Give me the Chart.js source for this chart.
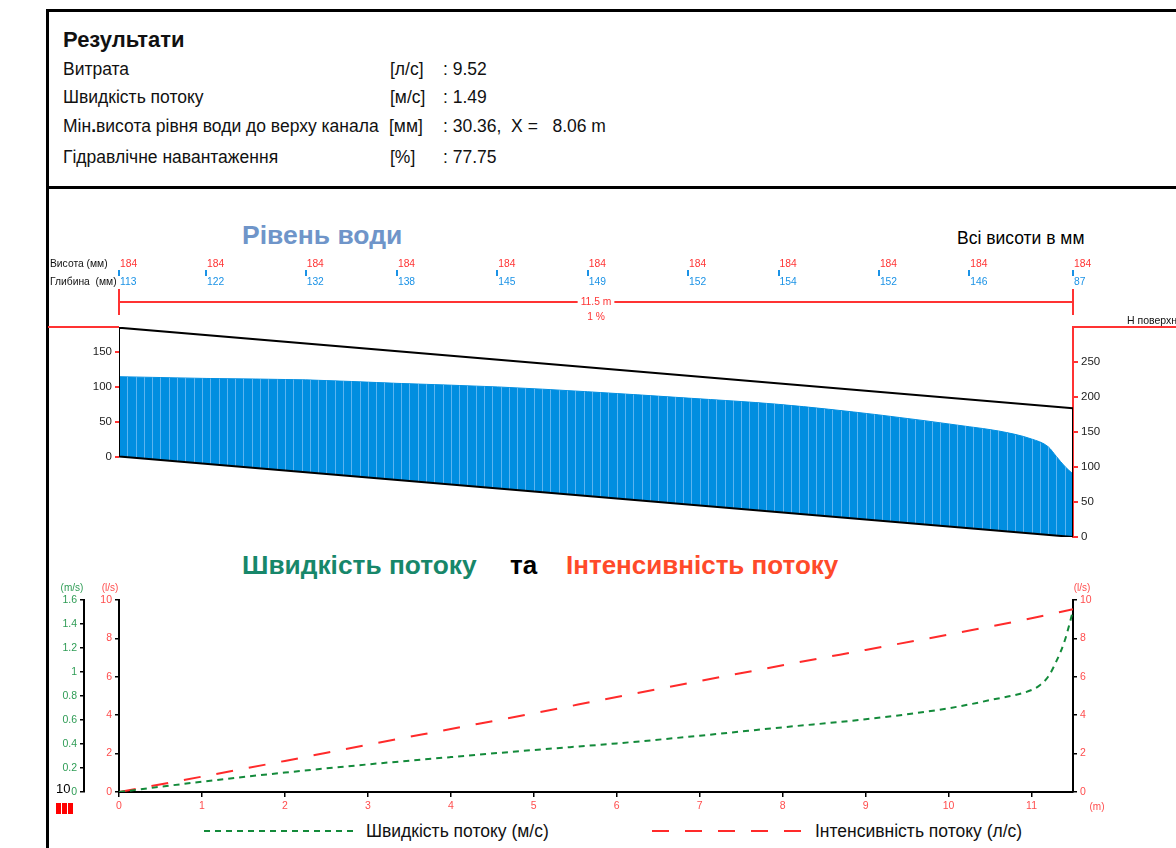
<!DOCTYPE html>
<html><head><meta charset="utf-8">
<script src="https://cdn.jsdelivr.net/npm/chart.js@4.4.1/dist/chart.umd.min.js"></script>
<style>
body{margin:0;background:#fff;font-family:"Liberation Sans",Arial,sans-serif;}
#page{position:relative;width:1176px;height:848px;overflow:hidden;background:#fff;}
.abs{position:absolute;white-space:nowrap;}
.row{font-size:17.5px;line-height:20px;color:#111;}
</style></head><body><div id="page">
<div class="abs" style="left:46px;top:9px;width:1130px;height:3px;background:#000"></div>
<div class="abs" style="left:46px;top:9px;width:3px;height:840px;background:#000"></div>
<div class="abs" style="left:46px;top:186px;width:1130px;height:3px;background:#000"></div>

<div class="abs" style="left:63px;top:27px;font-size:22px;line-height:26px;font-weight:bold;color:#111">Результати</div>
<div class="abs row" style="left:63px;top:59px">Витрата</div>
<div class="abs row" style="left:390px;top:59px">[л/с]</div>
<div class="abs row" style="left:443px;top:59px">: 9.52</div>
<div class="abs row" style="left:63px;top:87px">Швидкість потоку</div>
<div class="abs row" style="left:390px;top:87px">[м/с]</div>
<div class="abs row" style="left:443px;top:87px">: 1.49</div>
<div class="abs row" style="left:63px;top:116px">Мін<b>.</b>висота рівня води до верху канала</div>
<div class="abs row" style="left:389px;top:116px">[мм]</div>
<div class="abs row" style="left:443px;top:116px">: 30.36,&nbsp; X = &nbsp; 8.06 m</div>
<div class="abs row" style="left:63px;top:147px">Гідравлічне навантаження</div>
<div class="abs row" style="left:390px;top:147px">[%]</div>
<div class="abs row" style="left:443px;top:147px">: 77.75</div>

<div class="abs" style="left:242px;top:219px;font-size:26.5px;line-height:32px;font-weight:bold;color:#6f95c9">Рівень води</div>
<div class="abs" style="left:957px;top:227px;font-size:17.5px;line-height:22px;color:#000">Всі висоти в мм</div>

<canvas id="c1" class="abs" style="left:48px;top:200px" width="1128" height="347"></canvas>

<div class="abs" style="left:242px;top:549px;font-size:26.3px;line-height:32px;font-weight:bold;color:#17876a">Швидкість потоку</div>
<div class="abs" style="left:510px;top:549px;font-size:26px;line-height:32px;font-weight:bold;color:#000">та</div>
<div class="abs" style="left:566px;top:549px;font-size:26px;line-height:32px;font-weight:bold;color:#ff4a2a">Інтенсивність потоку</div>

<canvas id="c2" class="abs" style="left:48px;top:580px" width="1128" height="240"></canvas>

<div class="abs" style="left:56px;top:781px;font-size:13px;line-height:16px;color:#000">10</div>
<div class="abs" style="left:56px;top:803px;width:5px;height:11px;background:#f00"></div>
<div class="abs" style="left:62px;top:803px;width:5px;height:11px;background:#f00"></div>
<div class="abs" style="left:68px;top:803px;width:5px;height:11px;background:#f00"></div>

<svg class="abs" style="left:200px;top:825px" width="160" height="12"><line x1="4" y1="6" x2="156" y2="6" stroke="#138a3a" stroke-width="2" stroke-dasharray="6,5"/></svg>
<div class="abs" style="left:366px;top:821px;font-size:17.5px;line-height:20px;color:#111">Швидкість потоку (м/с)</div>
<svg class="abs" style="left:648px;top:825px" width="160" height="12"><line x1="4" y1="6" x2="156" y2="6" stroke="#ff2a2a" stroke-width="2" stroke-dasharray="17,16"/></svg>
<div class="abs" style="left:815px;top:821px;font-size:17.5px;line-height:20px;color:#111">Інтенсивність потоку (л/с)</div>
</div>
<script>
// ---------- data ----------
const pipeLength = 11.5;          // m
const slopePct = 1;               // %
const invertStart = 115;          // mm above outlet invert
const stationDist = [0, 1.05, 2.25, 3.35, 4.56, 5.65, 6.86, 7.95, 9.16, 10.25, 11.5];
const pipeHeight = [184, 184, 184, 184, 184, 184, 184, 184, 184, 184, 184];
const stationDepth = [113, 122, 132, 138, 145, 149, 152, 154, 152, 146, 87];
// water surface (depth, mm) read along the pipe
const surfaceDist = [0, 1.05, 2.25, 3.35, 4.56, 5.65, 6.86, 7.95, 9.16, 10.25, 10.6, 11.0, 11.2, 11.3, 11.4, 11.5];
const surfaceDepth = [114, 122, 132, 138, 145, 149, 152, 154, 151, 145, 142.5, 135, 126, 113, 100, 90];
const leftTicks = [0, 50, 100, 150];
const rightTicks = [0, 50, 100, 150, 200, 250];

const flowDist = [0, 1, 2, 3, 4, 5, 6, 7, 8, 9, 10, 11, 11.5];
const flowLs = [0, 0.80, 1.62, 2.46, 3.28, 4.10, 4.95, 5.78, 6.60, 7.40, 8.20, 9.05, 9.52];
const velDist = [0, 1, 2, 3, 4, 5, 6, 7, 8, 9, 10, 10.5, 11, 11.1, 11.2, 11.3, 11.4, 11.5];
const velMs = [0, 0.086, 0.162, 0.230, 0.291, 0.350, 0.405, 0.469, 0.539, 0.606, 0.698, 0.766, 0.850, 0.89, 0.96, 1.09, 1.26, 1.51];
const xTicks = [0, 1, 2, 3, 4, 5, 6, 7, 8, 9, 10, 11];

Chart.defaults.font.family = '"Liberation Sans", Arial, sans-serif';

const invAt = d => invertStart - slopePct * 10 * d;
const invertLine = [{x: 0, y: invAt(0)}, {x: pipeLength, y: invAt(pipeLength)}];
const pipeOutline = [
  {x: 0, y: invAt(0)}, {x: 0, y: invAt(0) + pipeHeight[0]},
  {x: pipeLength, y: invAt(pipeLength) + pipeHeight[pipeHeight.length - 1]},
  {x: pipeLength, y: invAt(pipeLength)}, {x: 0, y: invAt(0)}
];
const surfacePts = surfaceDist.map((d, i) => ({x: d, y: invAt(d) + surfaceDepth[i]}));

const WATER = 'rgb(0,142,224)';
const RED = '#ff3333';
const BLUE = '#1a92e6';

const upperDeco = {
  id: 'upperDeco',
  afterDatasetDraw(chart, args) {
    if (args.index !== 2) return;
    const ctx = chart.ctx, xs = chart.scales.x, ca = chart.chartArea;
    const pts = args.meta.data, inv = chart.getDatasetMeta(1).data;
    ctx.save();
    ctx.beginPath();
    pts.forEach((p, i) => i ? ctx.lineTo(p.x, p.y) : ctx.moveTo(p.x, p.y));
    ctx.lineTo(inv[1].x, inv[1].y); ctx.lineTo(inv[0].x, inv[0].y); ctx.closePath();
    ctx.clip();
    ctx.strokeStyle = 'rgba(95,182,240,0.95)'; ctx.lineWidth = 1;
    const n = Math.round(pipeLength / 0.1);
    for (let k = 1; k < n; k++) {
      const x = Math.round(xs.getPixelForValue(k * 0.1)) + 0.5;
      ctx.beginPath(); ctx.moveTo(x, ca.top); ctx.lineTo(x, ca.bottom); ctx.stroke();
    }
    ctx.restore();
  },
  afterDraw(chart) {
    const ctx = chart.ctx, xs = chart.scales.x, ca = chart.chartArea, W = chart.width;
    ctx.save();
    ctx.strokeStyle = RED; ctx.lineWidth = 2;
    ctx.beginPath(); ctx.moveTo(0, ca.top); ctx.lineTo(ca.left, ca.top); ctx.stroke();
    ctx.beginPath(); ctx.moveTo(ca.right, ca.top); ctx.lineTo(W, ca.top); ctx.stroke();
    ctx.fillStyle = '#111'; ctx.font = '10.5px "Liberation Sans", Arial'; ctx.textBaseline = 'middle'; ctx.textAlign = 'left';
    ctx.fillText('Н поверхні', ca.right + 54, ca.top - 6);
    ctx.font = '10.3px "Liberation Sans", Arial';
    ctx.fillText('Висота (мм)', 2, 64);
    ctx.fillText('Глибина  (мм)', 2, 82);
    stationDist.forEach((d, i) => {
      const x = xs.getPixelForValue(d);
      ctx.fillStyle = RED; ctx.fillText(String(pipeHeight[i]), x + 1, 64.5);
      ctx.fillStyle = BLUE; ctx.fillText(String(stationDepth[i]), x + 1, 82);
      ctx.fillRect(Math.round(x) - 1, 70, 2, 6);
    });
    const x0 = xs.getPixelForValue(0), x1 = xs.getPixelForValue(pipeLength), xm = (x0 + x1) / 2;
    ctx.strokeStyle = RED; ctx.lineWidth = 2;
    ctx.beginPath(); ctx.moveTo(x0, 102); ctx.lineTo(x1, 102); ctx.stroke();
    ctx.beginPath(); ctx.moveTo(x0, 89); ctx.lineTo(x0, 115); ctx.moveTo(x1, 89); ctx.lineTo(x1, 115); ctx.stroke();
    ctx.font = '10.3px "Liberation Sans", Arial'; ctx.textAlign = 'center';
    const lbl = pipeLength + ' m', tw = ctx.measureText(lbl).width;
    ctx.fillStyle = '#fff'; ctx.fillRect(xm - tw / 2 - 3, 96, tw + 6, 12);
    ctx.fillStyle = RED; ctx.fillText(lbl, xm, 102);
    ctx.fillText(slopePct + ' %', xm, 117);
    ctx.restore();
  }
};

new Chart(document.getElementById('c1'), {
  type: 'line',
  data: {datasets: [
    {label: 'pipe', data: pipeOutline, borderColor: '#000', borderWidth: 2, pointRadius: 0, fill: false, tension: 0, xAxisID: 'x', yAxisID: 'yR'},
    {label: 'invert', data: invertLine, borderColor: 'rgba(0,0,0,0)', borderWidth: 1, pointRadius: 0, fill: false, xAxisID: 'x', yAxisID: 'yR'},
    {label: 'surface', data: surfacePts, borderColor: WATER, borderWidth: 1, backgroundColor: WATER, fill: 1, pointRadius: 0, cubicInterpolationMode: 'monotone', xAxisID: 'x', yAxisID: 'yR'}
  ]},
  options: {
    responsive: false, animation: false, devicePixelRatio: 1,
    layout: {padding: {top: 127, bottom: 10, left: 0, right: 0}},
    plugins: {legend: {display: false}, tooltip: {enabled: false}},
    scales: {
      x: {type: 'linear', min: 0, max: pipeLength, display: false},
      yL: {position: 'left', min: -invertStart, max: 300 - invertStart,
        afterBuildTicks: s => { s.ticks = leftTicks.map(v => ({value: v})); },
        afterFit: s => { s.width = 71; },
        grid: {drawOnChartArea: false, color: RED, tickLength: 4, lineWidth: 2},
        border: {display: false},
        ticks: {color: '#222', font: {size: 11.5}, padding: 3}},
      yR: {position: 'right', min: 0, max: 300,
        afterBuildTicks: s => { s.ticks = rightTicks.map(v => ({value: v})); },
        afterFit: s => { s.width = 103; },
        grid: {drawOnChartArea: false, color: RED, tickLength: 5, lineWidth: 2},
        border: {display: true, color: RED, width: 2},
        ticks: {color: '#222', font: {size: 11.5}, padding: 3}}
    }
  },
  plugins: [upperDeco]
});

const lowerDeco = {
  id: 'lowerDeco',
  afterDraw(chart) {
    const ctx = chart.ctx;
    ctx.save();
    ctx.font = '10px "Liberation Sans", Arial'; ctx.textAlign = 'center'; ctx.textBaseline = 'middle';
    ctx.fillStyle = '#2e9c55'; ctx.fillText('(m/s)', chart.scales.yV.right - 12, 8);
    ctx.fillStyle = '#ff4d4d'; ctx.fillText('(l/s)', chart.scales.yL.right - 9, 8);
    ctx.fillText('(l/s)', chart.scales.yR.left + 9, 8);
    ctx.fillText('(m)', chart.chartArea.right + 24, 227);
    ctx.restore();
  }
};

new Chart(document.getElementById('c2'), {
  type: 'line',
  data: {datasets: [
    {label: 'Швидкість потоку (м/с)', data: velDist.map((d, i) => ({x: d, y: velMs[i]})), yAxisID: 'yV',
      borderColor: '#138a3a', borderDash: [6, 5], borderWidth: 2, pointRadius: 0, cubicInterpolationMode: 'monotone', fill: false},
    {label: 'Інтенсивність потоку (л/с)', data: flowDist.map((d, i) => ({x: d, y: flowLs[i]})), yAxisID: 'yL',
      borderColor: '#ff2a2a', borderDash: [17, 16], borderWidth: 2, pointRadius: 0, cubicInterpolationMode: 'monotone', fill: false}
  ]},
  options: {
    responsive: false, animation: false, devicePixelRatio: 1,
    layout: {padding: {top: 20, bottom: 0, left: 0, right: 0}},
    plugins: {legend: {display: false}, tooltip: {enabled: false}},
    scales: {
      x: {type: 'linear', min: 0, max: pipeLength, position: 'bottom',
        afterBuildTicks: s => { s.ticks = xTicks.map(v => ({value: v})); },
        afterFit: s => { s.height = 28; },
        grid: {drawOnChartArea: false, color: '#000', tickLength: 5, lineWidth: 1.5},
        border: {color: '#000', width: 2},
        ticks: {color: '#ff4d4d', font: {size: 10.5}, padding: 3, maxRotation: 0}},
      yL: {position: 'left', min: 0, max: 10, weight: 0,
        ticks: {stepSize: 2, color: '#ff4d4d', font: {size: 10.5}, padding: 3},
        afterFit: s => { s.width = 35; },
        grid: {drawOnChartArea: false, color: '#000', tickLength: 4, lineWidth: 1.5},
        border: {color: '#000', width: 2}},
      yV: {position: 'left', min: 0, max: 1.6, weight: 1,
        ticks: {stepSize: 0.2, color: '#2e9c55', font: {size: 10.5}, padding: 3,
          callback: v => String(Number(v.toFixed(1)))},
        afterFit: s => { s.width = 36; },
        grid: {drawOnChartArea: false, color: '#000', tickLength: 4, lineWidth: 1.5},
        border: {color: '#000', width: 2}},
      yR: {position: 'right', min: 0, max: 10,
        ticks: {stepSize: 2, color: '#ff4d4d', font: {size: 10.5}, padding: 3},
        afterFit: s => { s.width = 103; },
        grid: {drawOnChartArea: false, color: '#000', tickLength: 4, lineWidth: 1.5},
        border: {color: '#000', width: 2}}
    }
  },
  plugins: [lowerDeco]
});
</script>
</body></html>
